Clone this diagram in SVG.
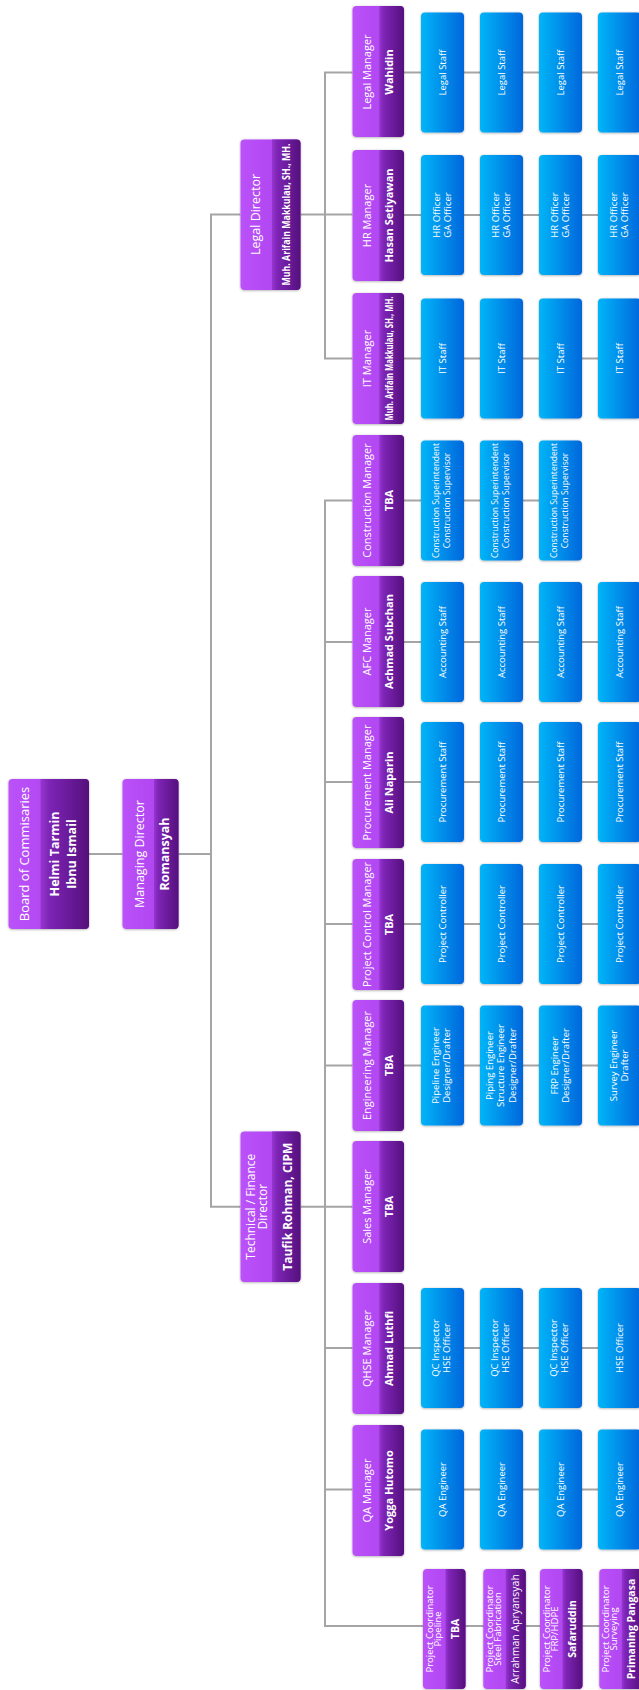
<svg xmlns="http://www.w3.org/2000/svg" width="639" height="1690" viewBox="0 0 639 1690">
<defs>
<linearGradient id="gL" x1="0" y1="0" x2="1" y2="0"><stop offset="0" stop-color="#bb52f9"/><stop offset="1" stop-color="#a83dea"/></linearGradient>
<linearGradient id="gD" x1="0" y1="0" x2="1" y2="0"><stop offset="0" stop-color="#9636cf"/><stop offset="0.18" stop-color="#7e24b6"/><stop offset="1" stop-color="#54107c"/></linearGradient>
<linearGradient id="gB" x1="0" y1="0" x2="1" y2="0"><stop offset="0" stop-color="#06b5f8"/><stop offset="1" stop-color="#0067dc"/></linearGradient>
<filter id="sh" x="-20%" y="-20%" width="140%" height="140%"><feDropShadow dx="0" dy="0.6" stdDeviation="0.8" flood-color="#000" flood-opacity="0.35"/></filter>
<style>
.ln{stroke:#a5a5a5;stroke-width:2;fill:none}
.lt{fill:url(#gL);filter:url(#sh)}
.dk{fill:url(#gD)}
.st{fill:url(#gB);filter:url(#sh)}
text{font-family:"Open Sans","Liberation Sans",sans-serif;fill:#fff;text-anchor:middle}
.s{font-size:9.5px}
.m{font-size:11px}
.mb{font-size:11px;font-weight:700}
.d{font-size:12.5px}
.db{font-size:12px;font-weight:700}
.c{font-size:9.5px}
.cb{font-size:10.5px;font-weight:700}
</style>
</defs>
<g id="connectors">
<path class="ln" d="M89,854 H122.5"/>
<path class="ln" d="M178.5,854 H211"/>
<path class="ln" d="M240.5,214.5 H211 V1206.7 H240.5"/>
<path class="ln" d="M300.5,214.5 H352.5"/>
<path class="ln" d="M352.5,72.5 H325 V358.5 H352.5"/>
<path class="ln" d="M300.5,1206.7 H352.5"/>
<path class="ln" d="M352.5,500.5 H325 V1626 H610"/>
<path class="ln" d="M325,642 H352.5 M325,782 H352.5 M325,924 H352.5 M325,1065.5 H352.5 M325,1348 H352.5 M325,1489.5 H352.5"/>
<path class="ln" d="M404,72.5 H610 M404,215 H610 M404,358.5 H610 M404,500.5 H550 M404,642 H610 M404,782 H610 M404,924 H610 M404,1065.5 H610 M404,1348 H610 M404,1489.5 H610"/>
</g>

<g id="board">
<rect class="lt" x="8.5" y="779" width="80.5" height="150" rx="4"/>
<path class="dk" d="M40.5,779 H85 a4,4 0 0 1 4,4 V925 a4,4 0 0 1 -4,4 H40.5 Z"/>
<text class="d" style="font-size:13px" transform="translate(24.5,854) rotate(-90)" y="4.5">Board of Commisaries</text>
<text class="db" style="font-size:12.5px" transform="translate(63.5,854) rotate(-90)"><tspan x="0" y="-4.1">Helmi Tarmin</tspan><tspan x="0" y="12.9">Ibnu Ismail</tspan></text>
</g>

<g id="managing-director">
<rect class="lt" x="122.5" y="779" width="56" height="150" rx="4"/>
<path class="dk" d="M154,779 H174.5 a4,4 0 0 1 4,4 V925 a4,4 0 0 1 -4,4 H154 Z"/>
<text class="d" transform="translate(139.5,854) rotate(-90)" y="4.4">Managing Director</text>
<text class="db" style="font-size:12.5px" transform="translate(165,854) rotate(-90)" y="4.4">Romansyah</text>
</g>

<g id="legal-director">
<rect class="lt" x="240.5" y="139.5" width="60" height="150.5" rx="4"/>
<path class="dk" d="M272,139.5 H296.5 a4,4 0 0 1 4,4 V286 a4,4 0 0 1 -4,4 H272 Z"/>
<text class="d" transform="translate(256,214.5) rotate(-90)" y="4.4">Legal Director</text>
<text class="db" style="font-size:10.5px" transform="translate(286,214.5) rotate(-90)" y="3.7" textLength="142" lengthAdjust="spacingAndGlyphs">Muh. Arifain Makkulau, SH.,  MH.</text>
</g>

<g id="technical-director">
<rect class="lt" x="240.5" y="1131.5" width="60" height="150.5" rx="4"/>
<path class="dk" d="M272,1131.5 H296.5 a4,4 0 0 1 4,4 V1278 a4,4 0 0 1 -4,4 H272 Z"/>
<text class="d" style="font-size:12px" transform="translate(256.5,1206.7) rotate(-90)"><tspan x="0" y="-1.6">Technical / Finance</tspan><tspan x="0" y="10">Director</tspan></text>
<text class="db" transform="translate(288,1206.7) rotate(-90)" y="4.2">Taufik Rohman, CIPM</text>
</g>

<g id="legal-manager">
<rect class="lt" x="352.5" y="6" width="51.5" height="131" rx="4"/>
<path class="dk" d="M379.3,6 H400 a4,4 0 0 1 4,4 V133 a4,4 0 0 1 -4,4 H379.3 Z"/>
<text class="m" transform="translate(367.5,72) rotate(-90)" y="3.9">Legal Manager</text>
<text class="mb" transform="translate(389,72) rotate(-90)" y="3.9">Wahidin</text>
</g>
<g id="legal-staff">
<rect class="st" x="421" y="12.5" width="43" height="120" rx="4"/>
<rect class="st" x="480" y="12.5" width="43" height="120" rx="4"/>
<rect class="st" x="539" y="12.5" width="43" height="120" rx="4"/>
<rect class="st" x="598" y="12.5" width="43" height="120" rx="4"/>
<text class="s" transform="translate(442.5,72.5) rotate(-90)" y="3.3">Legal Staff</text>
<text class="s" transform="translate(501.5,72.5) rotate(-90)" y="3.3">Legal Staff</text>
<text class="s" transform="translate(560.5,72.5) rotate(-90)" y="3.3">Legal Staff</text>
<text class="s" transform="translate(619.5,72.5) rotate(-90)" y="3.3">Legal Staff</text>
</g>

<g id="hr-manager">
<rect class="lt" x="352.5" y="150" width="51.5" height="131" rx="4"/>
<path class="dk" d="M379.3,150 H400 a4,4 0 0 1 4,4 V277 a4,4 0 0 1 -4,4 H379.3 Z"/>
<text class="m" transform="translate(367.5,215.5) rotate(-90)" y="3.9">HR Manager</text>
<text class="mb" transform="translate(389,215.5) rotate(-90)" y="3.9">Hasan Setiyawan</text>
</g>
<g id="hr-staff">
<rect class="st" x="421" y="155" width="43" height="120" rx="4"/>
<rect class="st" x="480" y="155" width="43" height="120" rx="4"/>
<rect class="st" x="539" y="155" width="43" height="120" rx="4"/>
<rect class="st" x="598" y="155" width="43" height="120" rx="4"/>
<text class="s" transform="translate(442.5,215) rotate(-90)"><tspan x="0" y="-2.3">HR Officer</tspan><tspan x="0" y="8.9">GA Officer</tspan></text>
<text class="s" transform="translate(501.5,215) rotate(-90)"><tspan x="0" y="-2.3">HR Officer</tspan><tspan x="0" y="8.9">GA Officer</tspan></text>
<text class="s" transform="translate(560.5,215) rotate(-90)"><tspan x="0" y="-2.3">HR Officer</tspan><tspan x="0" y="8.9">GA Officer</tspan></text>
<text class="s" transform="translate(619.5,215) rotate(-90)"><tspan x="0" y="-2.3">HR Officer</tspan><tspan x="0" y="8.9">GA Officer</tspan></text>
</g>

<g id="it-manager">
<rect class="lt" x="352.5" y="293" width="51.5" height="131" rx="4"/>
<path class="dk" d="M379.3,293 H400 a4,4 0 0 1 4,4 V420 a4,4 0 0 1 -4,4 H379.3 Z"/>
<text class="m" transform="translate(367.5,358.5) rotate(-90)" y="3.9">IT Manager</text>
<text class="mb" style="font-size:10.5px" transform="translate(389,358.5) rotate(-90)" y="3.7" textLength="124" lengthAdjust="spacingAndGlyphs">Muh. Arifain Makkulau, SH.,  MH.</text>
</g>
<g id="it-staff">
<rect class="st" x="421" y="298.5" width="43" height="120" rx="4"/>
<rect class="st" x="480" y="298.5" width="43" height="120" rx="4"/>
<rect class="st" x="539" y="298.5" width="43" height="120" rx="4"/>
<rect class="st" x="598" y="298.5" width="43" height="120" rx="4"/>
<text class="s" transform="translate(442.5,358.5) rotate(-90)" y="3.3">IT Staff</text>
<text class="s" transform="translate(501.5,358.5) rotate(-90)" y="3.3">IT Staff</text>
<text class="s" transform="translate(560.5,358.5) rotate(-90)" y="3.3">IT Staff</text>
<text class="s" transform="translate(619.5,358.5) rotate(-90)" y="3.3">IT Staff</text>
</g>

<g id="construction-manager">
<rect class="lt" x="352.5" y="435" width="51.5" height="131" rx="4"/>
<path class="dk" d="M379.3,435 H400 a4,4 0 0 1 4,4 V562 a4,4 0 0 1 -4,4 H379.3 Z"/>
<text class="m" transform="translate(367.5,500.5) rotate(-90)" y="3.9">Construction Manager</text>
<text class="mb" transform="translate(389,500.5) rotate(-90)" y="3.9">TBA</text>
</g>
<g id="construction-staff">
<rect class="st" x="421" y="440.5" width="43" height="120" rx="4"/>
<rect class="st" x="480" y="440.5" width="43" height="120" rx="4"/>
<rect class="st" x="539" y="440.5" width="43" height="120" rx="4"/>
<text class="s" style="font-size:8.5px" transform="translate(441.5,500.5) rotate(-90)"><tspan x="0" y="-2.8">Construction Superintendent</tspan><tspan x="0" y="8.8">Construction Supervisor</tspan></text>
<text class="s" style="font-size:8.5px" transform="translate(500.5,500.5) rotate(-90)"><tspan x="0" y="-2.8">Construction Superintendent</tspan><tspan x="0" y="8.8">Construction Supervisor</tspan></text>
<text class="s" style="font-size:8.5px" transform="translate(559.5,500.5) rotate(-90)"><tspan x="0" y="-2.8">Construction Superintendent</tspan><tspan x="0" y="8.8">Construction Supervisor</tspan></text>
</g>

<g id="afc-manager">
<rect class="lt" x="352.5" y="576" width="51.5" height="131" rx="4"/>
<path class="dk" d="M379.3,576 H400 a4,4 0 0 1 4,4 V703 a4,4 0 0 1 -4,4 H379.3 Z"/>
<text class="m" transform="translate(367.5,641.5) rotate(-90)" y="3.9">AFC Manager</text>
<text class="mb" transform="translate(389,641.5) rotate(-90)" y="3.9">Achmad Subchan</text>
</g>
<g id="afc-staff">
<rect class="st" x="421" y="582" width="43" height="120" rx="4"/>
<rect class="st" x="480" y="582" width="43" height="120" rx="4"/>
<rect class="st" x="539" y="582" width="43" height="120" rx="4"/>
<rect class="st" x="598" y="582" width="43" height="120" rx="4"/>
<text class="s" transform="translate(442.5,642) rotate(-90)" y="3.3">Accounting Staff</text>
<text class="s" transform="translate(501.5,642) rotate(-90)" y="3.3">Accounting Staff</text>
<text class="s" transform="translate(560.5,642) rotate(-90)" y="3.3">Accounting Staff</text>
<text class="s" transform="translate(619.5,642) rotate(-90)" y="3.3">Accounting Staff</text>
</g>

<g id="procurement-manager">
<rect class="lt" x="352.5" y="717" width="51.5" height="131" rx="4"/>
<path class="dk" d="M379.3,717 H400 a4,4 0 0 1 4,4 V844 a4,4 0 0 1 -4,4 H379.3 Z"/>
<text class="m" transform="translate(367.5,782.5) rotate(-90)" y="3.9">Procurement Manager</text>
<text class="mb" transform="translate(389,782.5) rotate(-90)" y="3.9">Ali Naparin</text>
</g>
<g id="procurement-staff">
<rect class="st" x="421" y="722" width="43" height="120" rx="4"/>
<rect class="st" x="480" y="722" width="43" height="120" rx="4"/>
<rect class="st" x="539" y="722" width="43" height="120" rx="4"/>
<rect class="st" x="598" y="722" width="43" height="120" rx="4"/>
<text class="s" transform="translate(442.5,782) rotate(-90)" y="3.3">Procurement Staff</text>
<text class="s" transform="translate(501.5,782) rotate(-90)" y="3.3">Procurement Staff</text>
<text class="s" transform="translate(560.5,782) rotate(-90)" y="3.3">Procurement Staff</text>
<text class="s" transform="translate(619.5,782) rotate(-90)" y="3.3">Procurement Staff</text>
</g>

<g id="project-control-manager">
<rect class="lt" x="352.5" y="859" width="51.5" height="131" rx="4"/>
<path class="dk" d="M379.3,859 H400 a4,4 0 0 1 4,4 V986 a4,4 0 0 1 -4,4 H379.3 Z"/>
<text class="m" transform="translate(367.5,924.5) rotate(-90)" y="3.9">Project Control Manager</text>
<text class="mb" transform="translate(389,924.5) rotate(-90)" y="3.9">TBA</text>
</g>
<g id="project-control-staff">
<rect class="st" x="421" y="864" width="43" height="120" rx="4"/>
<rect class="st" x="480" y="864" width="43" height="120" rx="4"/>
<rect class="st" x="539" y="864" width="43" height="120" rx="4"/>
<rect class="st" x="598" y="864" width="43" height="120" rx="4"/>
<text class="s" transform="translate(442.5,924) rotate(-90)" y="3.3">Project Controller</text>
<text class="s" transform="translate(501.5,924) rotate(-90)" y="3.3">Project Controller</text>
<text class="s" transform="translate(560.5,924) rotate(-90)" y="3.3">Project Controller</text>
<text class="s" transform="translate(619.5,924) rotate(-90)" y="3.3">Project Controller</text>
</g>

<g id="engineering-manager">
<rect class="lt" x="352.5" y="1000" width="51.5" height="131" rx="4"/>
<path class="dk" d="M379.3,1000 H400 a4,4 0 0 1 4,4 V1127 a4,4 0 0 1 -4,4 H379.3 Z"/>
<text class="m" transform="translate(367.5,1065.5) rotate(-90)" y="3.9">Engineering Manager</text>
<text class="mb" transform="translate(389,1065.5) rotate(-90)" y="3.9">TBA</text>
</g>
<g id="engineering-staff">
<rect class="st" x="421" y="1005.5" width="43" height="120" rx="4"/>
<rect class="st" x="480" y="1005.5" width="43" height="120" rx="4"/>
<rect class="st" x="539" y="1005.5" width="43" height="120" rx="4"/>
<rect class="st" x="598" y="1005.5" width="43" height="120" rx="4"/>
<text class="s" transform="translate(441,1065.5) rotate(-90)"><tspan x="0" y="-2.3">Pipeline Engineer</tspan><tspan x="0" y="8.9">Designer/Drafter</tspan></text>
<text class="s" transform="translate(501,1065.5) rotate(-90)"><tspan x="0" y="-7.9">Piping Engineer</tspan><tspan x="0" y="3.3">Structure Engineer</tspan><tspan x="0" y="14.5">Designer/Drafter</tspan></text>
<text class="s" transform="translate(560,1065.5) rotate(-90)"><tspan x="0" y="-2.3">FRP Engineer</tspan><tspan x="0" y="8.9">Designer/Drafter</tspan></text>
<text class="s" transform="translate(619,1065.5) rotate(-90)"><tspan x="0" y="-2.3">Survey Engineer</tspan><tspan x="0" y="8.9">Drafter</tspan></text>
</g>

<g id="sales-manager">
<rect class="lt" x="352.5" y="1141" width="51.5" height="131" rx="4"/>
<path class="dk" d="M379.3,1141 H400 a4,4 0 0 1 4,4 V1268 a4,4 0 0 1 -4,4 H379.3 Z"/>
<text class="m" transform="translate(367.5,1206.5) rotate(-90)" y="3.9">Sales Manager</text>
<text class="mb" transform="translate(389,1206.5) rotate(-90)" y="3.9">TBA</text>
</g>

<g id="qhse-manager">
<rect class="lt" x="352.5" y="1283" width="51.5" height="131" rx="4"/>
<path class="dk" d="M379.3,1283 H400 a4,4 0 0 1 4,4 V1410 a4,4 0 0 1 -4,4 H379.3 Z"/>
<text class="m" transform="translate(367.5,1348.5) rotate(-90)" y="3.9">QHSE Manager</text>
<text class="mb" transform="translate(389,1348.5) rotate(-90)" y="3.9">Ahmad Luthfi</text>
</g>
<g id="qhse-staff">
<rect class="st" x="421" y="1288" width="43" height="120" rx="4"/>
<rect class="st" x="480" y="1288" width="43" height="120" rx="4"/>
<rect class="st" x="539" y="1288" width="43" height="120" rx="4"/>
<rect class="st" x="598" y="1288" width="43" height="120" rx="4"/>
<text class="s" transform="translate(441.5,1348) rotate(-90)"><tspan x="0" y="-2.3">QC Inspector</tspan><tspan x="0" y="8.9">HSE Officer</tspan></text>
<text class="s" transform="translate(500.5,1348) rotate(-90)"><tspan x="0" y="-2.3">QC Inspector</tspan><tspan x="0" y="8.9">HSE Officer</tspan></text>
<text class="s" transform="translate(559.5,1348) rotate(-90)"><tspan x="0" y="-2.3">QC Inspector</tspan><tspan x="0" y="8.9">HSE Officer</tspan></text>
<text class="s" transform="translate(619.5,1348) rotate(-90)" y="3.3">HSE Officer</text>
</g>

<g id="qa-manager">
<rect class="lt" x="352.5" y="1425" width="51.5" height="131" rx="4"/>
<path class="dk" d="M379.3,1425 H400 a4,4 0 0 1 4,4 V1552 a4,4 0 0 1 -4,4 H379.3 Z"/>
<text class="m" transform="translate(367.5,1490.5) rotate(-90)" y="3.9">QA Manager</text>
<text class="mb" transform="translate(389,1490.5) rotate(-90)" y="3.9">Yogga Hutomo</text>
</g>
<g id="qa-staff">
<rect class="st" x="421" y="1429.5" width="43" height="120" rx="4"/>
<rect class="st" x="480" y="1429.5" width="43" height="120" rx="4"/>
<rect class="st" x="539" y="1429.5" width="43" height="120" rx="4"/>
<rect class="st" x="598" y="1429.5" width="43" height="120" rx="4"/>
<text class="s" transform="translate(442.5,1489.5) rotate(-90)" y="3.3">QA Engineer</text>
<text class="s" transform="translate(501.5,1489.5) rotate(-90)" y="3.3">QA Engineer</text>
<text class="s" transform="translate(560.5,1489.5) rotate(-90)" y="3.3">QA Engineer</text>
<text class="s" transform="translate(619.5,1489.5) rotate(-90)" y="3.3">QA Engineer</text>
</g>

<g id="coordinator-pipeline">
<rect class="lt" x="423" y="1569" width="42.5" height="120" rx="4"/>
<path class="dk" d="M445.5,1569 H461.5 a4,4 0 0 1 4,4 V1685 a4,4 0 0 1 -4,4 H445.5 Z"/>
<text class="c" transform="translate(433.5,1629) rotate(-90)"><tspan x="0" y="-0.9">Project Coordinator</tspan><tspan x="0" y="7.4">Pipeline</tspan></text>
<text class="cb" transform="translate(455.3,1629) rotate(-90)" y="3.7">TBA</text>
</g>
<g id="coordinator-steel">
<rect class="lt" x="483.3" y="1569" width="42.5" height="120" rx="4"/>
<path class="dk" d="M505.8,1569 H521.8 a4,4 0 0 1 4,4 V1685 a4,4 0 0 1 -4,4 H505.8 Z"/>
<text class="c" transform="translate(493.8,1629) rotate(-90)"><tspan x="0" y="-0.9">Project Coordinator</tspan><tspan x="0" y="7.4">Steel Fabrication</tspan></text>
<text class="c" style="font-size:10.5px" transform="translate(515.6,1629) rotate(-90)" y="3.7">Arrahman Apryansyah</text>
</g>
<g id="coordinator-frp">
<rect class="lt" x="540" y="1569" width="42.5" height="120" rx="4"/>
<path class="dk" d="M562.5,1569 H578.5 a4,4 0 0 1 4,4 V1685 a4,4 0 0 1 -4,4 H562.5 Z"/>
<text class="c" transform="translate(550.5,1629) rotate(-90)"><tspan x="0" y="-0.9">Project Coordinator</tspan><tspan x="0" y="7.4">FRP/HDPE</tspan></text>
<text class="cb" transform="translate(572.3,1629) rotate(-90)" y="3.7">Safaruddin</text>
</g>
<g id="coordinator-surveying">
<rect class="lt" x="599.3" y="1569" width="42.5" height="120" rx="4"/>
<path class="dk" d="M621.8,1569 H637.8 a4,4 0 0 1 4,4 V1685 a4,4 0 0 1 -4,4 H621.8 Z"/>
<text class="c" transform="translate(609.8,1629) rotate(-90)"><tspan x="0" y="-0.9">Project Coordinator</tspan><tspan x="0" y="7.4">Surveying</tspan></text>
<text class="cb" transform="translate(631.6,1629) rotate(-90)" y="3.7">Primaning Pangasa</text>
</g>
</svg>
